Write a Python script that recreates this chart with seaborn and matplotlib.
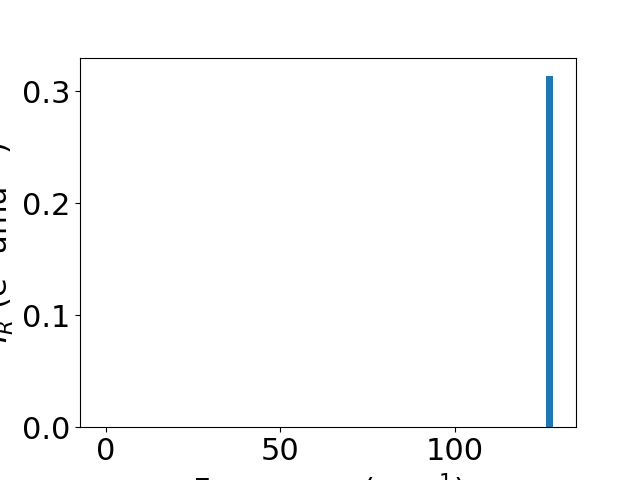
import matplotlib
matplotlib.use("Agg")
import matplotlib.pyplot as plt
import seaborn as sns
import pandas as pd

frequencies = [0.0, 127.2]
intensities = [0.0, 0.314]

plt.rcParams.update({"font.size": 22})
df = pd.DataFrame({"freq": frequencies, "ir": intensities})

fig, ax = plt.subplots(figsize=(6.4, 4.8), dpi=100)
sns.barplot(data=df, x="freq", y="ir", native_scale=True, width=2.0 / 127.2,
            color="#1f77b4", saturation=1, errorbar=None, ax=ax)
ax.set_xlabel("Frequency (cm$^{-1}$)")
ax.set_ylabel("$I_R$ (e$^2$ amu$^{-1}$)")
ax.set_xticks([0, 50, 100])
ax.set_yticks([0.0, 0.1, 0.2, 0.3])
ax.margins(x=0.05, y=0.05)
ax.set_ylim(0, 0.33)
ax.set_xlim(-7.45, 134.7)
fig.savefig("out.png", dpi=100)
